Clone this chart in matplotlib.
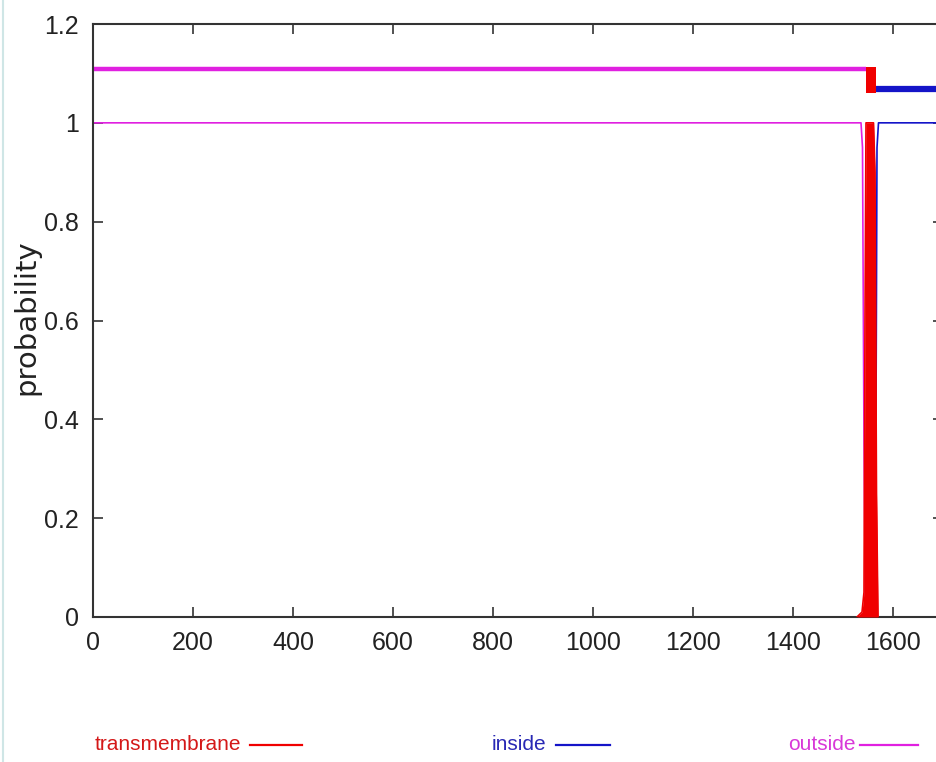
import matplotlib
matplotlib.use("Agg")
import matplotlib.pyplot as plt
from matplotlib.lines import Line2D
from matplotlib.ticker import FormatStrFormatter

# posterior probabilities (breakpoints)
out_pos = [0, 1536, 1539, 1542, 1545, 1700]
out_val = [1.0, 1.0, 0.95, 0.35, 0.0, 0.0]

in_pos = [0, 1564, 1566, 1568, 1571, 1700]
in_val = [0.0, 0.0, 0.4, 0.95, 1.0, 1.0]

tm_pos = [1528, 1538, 1542, 1544, 1546, 1561, 1564, 1567, 1570]
tm_val = [0.0, 0.01, 0.05, 0.6, 1.0, 1.0, 0.9, 0.25, 0.0]

# topology bar at the top: (start, end, level)
top_outside = [(0, 1546, 1.109)]
top_tm = [(1546, 1566)]
top_inside = [(1566, 1700, 1.068)]

xticks = [0, 200, 400, 600, 800, 1000, 1200, 1400, 1600]
yticks = [0, 0.2, 0.4, 0.6, 0.8, 1.0, 1.2]

c_tm = "#f00000"
c_in = "#1414c8"
c_out = "#e020e0"

sans = ["Liberation Sans", "DejaVu Sans"]

fig = plt.figure(figsize=(9.37, 7.62), dpi=100)
ax = fig.add_axes([93 / 937, 1 - 617 / 762, 850 / 937, (617 - 24) / 762])

ax.plot(in_pos, in_val, color=c_in, lw=1.2, zorder=2)
ax.plot(out_pos, out_val, color=c_out, lw=1.2, zorder=2)
ax.fill_between(tm_pos, 0, tm_val, color=c_tm, lw=0, zorder=3)
ax.plot(tm_pos, tm_val, color=c_tm, lw=1.2, zorder=3)

for s, e, lev in top_outside:
    ax.plot([s, e], [lev, lev], color=c_out, lw=3.2, solid_capstyle="butt")
for s, e, lev in top_inside:
    ax.plot([s, e], [lev, lev], color=c_in, lw=4.5, solid_capstyle="butt")
for s, e in top_tm:
    ax.fill_between([s, e], 1.06, 1.113, color=c_tm, lw=0)

ax.set_xlim(0, 1700)
ax.set_ylim(0, 1.2)
ax.set_xticks(xticks)
ax.set_yticks(yticks)
ax.yaxis.set_major_formatter(FormatStrFormatter("%g"))
ax.tick_params(direction="in", length=7, width=1.2, color="#333333",
               top=True, right=True, labelsize=18, pad=10)
for lab in ax.get_xticklabels() + ax.get_yticklabels():
    lab.set_family(sans)
    lab.set_color("#222222")
for sp in ax.spines.values():
    sp.set_color("#333333")
    sp.set_linewidth(1.5)

fig.text(26 / 937, 1 - 317 / 762, "probability", rotation=90, fontsize=21,
         family=["DejaVu Sans"], color="#222222", ha="center", va="center")

# key under the plot
key = [("transmembrane", c_tm, "#d41818", 95, 250, 302),
       ("inside", c_in, "#2828b4", 492, 556, 610),
       ("outside", c_out, "#d838d8", 788, 860, 918)]
ky = 1 - 745 / 762
for name, lc, tc, tx, l0, l1 in key:
    fig.text(tx / 937, ky, name, color=tc, fontsize=15, family=sans,
             ha="left", va="center")
    fig.add_artist(Line2D([l0 / 937, l1 / 937], [ky, ky], color=lc, lw=1.6,
                          transform=fig.transFigure))

# thin page border on the left
fig.add_artist(Line2D([3 / 937, 3 / 937], [0, 1], color="#cfe6e6", lw=1.5,
                      transform=fig.transFigure))

fig.savefig("out.png", dpi=100)
